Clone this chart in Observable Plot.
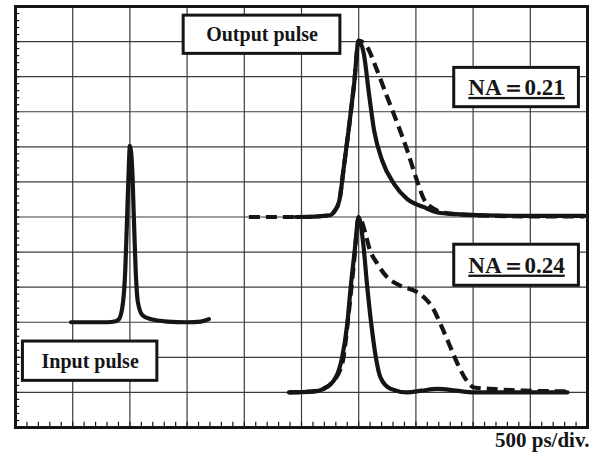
<!DOCTYPE html>
<html>
<head>
<meta charset="utf-8">
<script src="https://cdn.jsdelivr.net/npm/d3@7"></script>
<script src="https://cdn.jsdelivr.net/npm/@observablehq/plot@0.6"></script>
<style>
  body { margin: 0; background: #fff; }
</style>
</head>
<body>
<div id="chart"></div>
<script>
// Oscilloscope traces: time in divisions (500 ps/div), amplitude in vertical divisions.

// Input pulse
const inputTime = [0.97, 1.6, 1.75, 1.81, 1.88, 1.92, 1.95, 1.98, 2.0, 2.04, 2.07, 2.1, 2.14, 2.22, 2.36, 2.65, 3.0, 3.24, 3.38];
const inputAmp  = [3.0, 3.0, 3.03, 3.09, 3.57, 4.52, 5.94, 7.37, 8.03, 7.37, 5.94, 4.52, 3.57, 3.2, 3.09, 3.02, 3.0, 3.02, 3.09];

// Output pulse, NA = 0.21 (solid and dashed traces)
const na21SolidTime = [4.9, 5.3, 5.5, 5.57, 5.66, 5.74, 5.83, 5.92, 6.0, 6.09, 6.18, 6.27, 6.41, 6.62, 6.85, 7.14, 7.38, 7.7, 8.2, 9.0, 9.95];
const na21SolidAmp  = [6.0, 6.02, 6.05, 6.15, 6.46, 7.42, 8.56, 9.79, 11.03, 10.65, 9.51, 8.46, 7.61, 6.94, 6.51, 6.28, 6.13, 6.08, 6.05, 6.03, 6.03];
const na21DashTime  = [4.08, 5.0, 5.5, 5.57, 5.66, 5.74, 5.83, 5.92, 6.0, 6.15, 6.3, 6.5, 6.68, 6.85, 7.0, 7.14, 7.32, 7.5, 8.0, 9.0, 9.95];
const na21DashAmp   = [6.0, 6.0, 6.05, 6.15, 6.46, 7.42, 8.56, 9.79, 11.03, 10.84, 10.27, 9.41, 8.65, 7.89, 7.13, 6.51, 6.23, 6.12, 6.05, 6.02, 6.02];

// Output pulse, NA = 0.24 (solid and dashed traces)
const na24SolidTime = [4.78, 5.2, 5.39, 5.6, 5.71, 5.8, 5.86, 5.93, 6.0, 6.08, 6.15, 6.22, 6.3, 6.38, 6.56, 6.85, 7.1, 7.38, 7.7, 8.02, 9.0, 9.65];
const na24SolidAmp  = [1.0, 1.02, 1.1, 1.43, 2.0, 2.95, 4.0, 5.04, 6.0, 5.23, 4.0, 2.95, 2.0, 1.43, 1.1, 1.0, 1.05, 1.1, 1.05, 1.0, 1.0, 1.0];
const na24DashTime  = [4.78, 5.2, 5.4, 5.51, 5.71, 5.83, 5.92, 6.0, 6.12, 6.18, 6.33, 6.5, 6.73, 6.97, 7.14, 7.29, 7.43, 7.58, 7.73, 7.87, 8.02, 8.31, 8.89, 9.65];
const na24DashAmp   = [1.0, 1.03, 1.12, 1.24, 1.81, 3.33, 4.75, 6.0, 5.52, 5.14, 4.66, 4.28, 4.04, 3.9, 3.71, 3.42, 2.95, 2.38, 1.81, 1.38, 1.14, 1.1, 1.05, 1.03];

// Screen graticule
const xDivisions = 10;
const yDivisions = 12;
const subdivisions = 5;

// Labels
const labelTexts = ["Output pulse", "NA＝0.21", "NA＝0.24", "Input pulse"];
const scaleText = "500 ps/div.";

// Label boxes placed in division coordinates
const labelBoxes = [
  {x1: 2.94, x2: 5.68, y1: 10.65, y2: 11.74},
  {x1: 7.67, x2: 9.85, y1: 9.13, y2: 10.25},
  {x1: 7.67, x2: 9.85, y1: 4.04, y2: 5.21},
  {x1: 0.13, x2: 2.48, y1: 1.33, y2: 2.45}
].map((b, i) => ({...b, text: labelTexts[i]}));

const rows = (t, v) => t.map((d, i) => ({t: d, v: v[i]}));

const ink = "#151515";
const gridColor = "#3c3c3c";

const solid = {x: "t", y: "v", stroke: ink, strokeWidth: 4.2, curve: "monotone-x", strokeLinejoin: "round", strokeLinecap: "round"};
const dashed = {...solid, strokeDasharray: "11,6", strokeLinecap: "butt"};

const minorX = d3.range(1, xDivisions * subdivisions).map(i => i / subdivisions);
const minorY = d3.range(1, yDivisions * subdivisions).map(i => i / subdivisions);

const plot = Plot.plot({
  width: 593,
  height: 456,
  marginLeft: 15,
  marginRight: 6,
  marginTop: 6,
  marginBottom: 29,
  x: {domain: [0, xDivisions], axis: null},
  y: {domain: [0, yDivisions], axis: null},
  style: {background: "#fff", fontFamily: "'Liberation Serif', 'Times New Roman', serif", color: ink},
  marks: [
    Plot.ruleX(d3.range(1, xDivisions), {stroke: gridColor, strokeWidth: 1.2}),
    Plot.ruleY(d3.range(1, yDivisions), {stroke: gridColor, strokeWidth: 1.2}),
    Plot.ruleX(minorX, {y1: 0, y2: 0.15, stroke: ink, strokeWidth: 1.2}),
    Plot.ruleY(minorY, {x1: 0, x2: 0.075, stroke: ink, strokeWidth: 1.2}),
    Plot.line(rows(inputTime, inputAmp), solid),
    Plot.line(rows(na21DashTime, na21DashAmp), dashed),
    Plot.line(rows(na21SolidTime, na21SolidAmp), solid),
    Plot.line(rows(na24DashTime, na24DashAmp), dashed),
    Plot.line(rows(na24SolidTime, na24SolidAmp), solid),
    Plot.rect(labelBoxes, {x1: "x1", x2: "x2", y1: "y1", y2: "y2", fill: "#fff", stroke: ink, strokeWidth: 3}),
    Plot.text(labelBoxes.filter(d => !d.text.startsWith("NA")), {
      x: d => (d.x1 + d.x2) / 2, y: d => (d.y1 + d.y2) / 2, text: "text",
      fontSize: 20, fontWeight: "bold", fill: ink
    }),
    Plot.text(labelBoxes.filter(d => d.text.startsWith("NA")), {
      x: d => (d.x1 + d.x2) / 2, y: d => (d.y1 + d.y2) / 2, text: "text",
      fontSize: 23, fontWeight: "bold", fill: ink
    }),
    Plot.text([scaleText], {
      frameAnchor: "bottom-right", dx: 2, dy: 19, textAnchor: "end",
      fontSize: 21, fontWeight: "bold", fill: ink
    }),
    Plot.frame({stroke: ink, strokeWidth: 3})
  ]
});

d3.select(plot).selectAll("text")
  .filter(function () { return this.textContent.startsWith("NA"); })
  .attr("text-decoration", "underline");

document.getElementById("chart").appendChild(plot);
</script>
</body>
</html>
